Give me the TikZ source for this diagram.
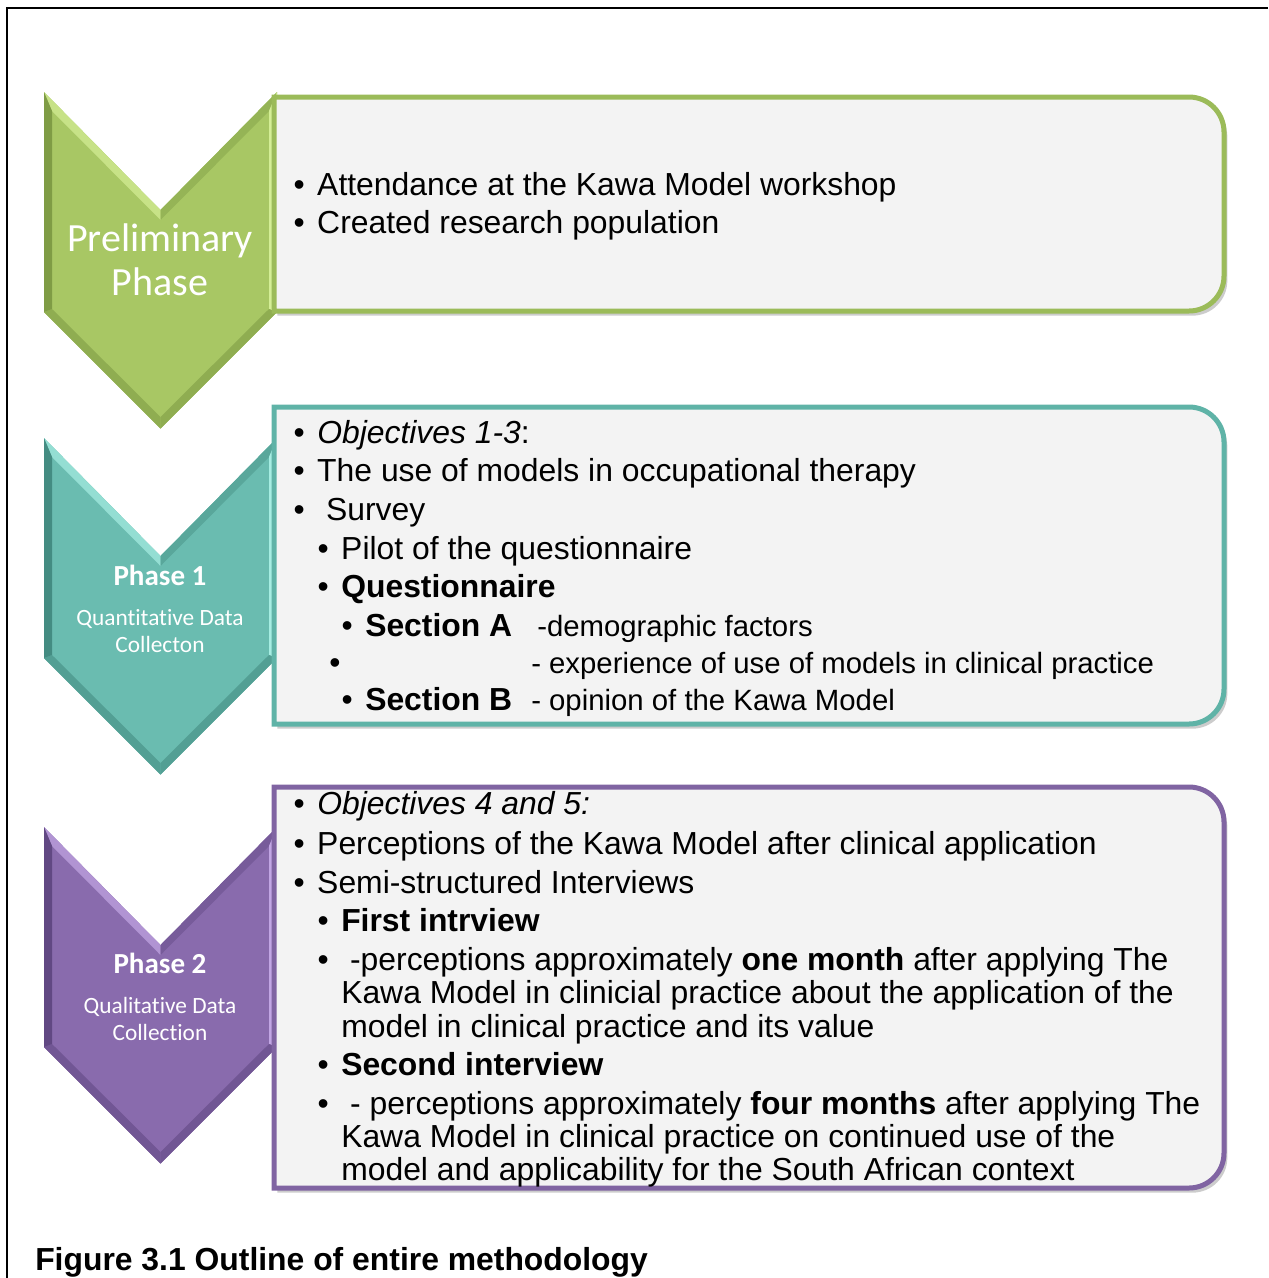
\documentclass[tikz,border=0pt]{standalone}
\usepackage{fontspec}
\setmainfont{Liberation Sans}
\newfontfamily\calfont[Ligatures=NoCommon]{Carlito}
\usetikzlibrary{shadows}

\definecolor{boxfill}{HTML}{F3F3F3}
\definecolor{grn}{HTML}{9BBB59}
\definecolor{grnfill}{HTML}{A8C764}
\definecolor{grnlight}{HTML}{D4EE96}
\definecolor{grndark}{HTML}{7F9C45}
\definecolor{tea}{HTML}{5FB3A7}
\definecolor{teafill}{HTML}{6ABCB0}
\definecolor{tealight}{HTML}{A6EDE2}
\definecolor{teadark}{HTML}{448C82}
\definecolor{pur}{HTML}{8064A2}
\definecolor{purfill}{HTML}{896BAD}
\definecolor{purlight}{HTML}{C2A6E4}
\definecolor{purdark}{HTML}{614883}

\tikzset{
  txt/.style={anchor=base west, inner sep=0pt, font=\fontsize{23.9}{28}\selectfont},
  smalltxt/.style={txt, font=\fontsize{22}{26}\selectfont},
  chevtext/.style={anchor=base, inner sep=0pt, text=white},
}
\newcommand\bul{\makebox[15.75pt][l]{\hspace{-2pt}\textbullet}}

\begin{document}
\begin{tikzpicture}[x=0.75pt, y=-0.75pt]
  \useasboundingbox (0,0) rectangle (1268,1278);
  \draw[line width=1.2pt] (7,1278) -- (7,8) -- (1268,8);

  % chevrons
  \foreach \y/\main/\lite/\dark in {92/grnfill/grnlight/grndark, 438/teafill/tealight/teadark, 827/purfill/purlight/purdark} {
    \begin{scope}[shift={(44,\y)}]
      \fill[\main] (0,0) -- (116.5,118) -- (233,0) -- (233,220) -- (116.5,336.5) -- (0,220) -- cycle;
      \fill[\lite!70!\main] (0,0) -- (116.5,118) -- (116.5,128) -- (8,19) -- cycle;
      \fill[\dark!45!\main] (116.5,118) -- (233,0) -- (225,19) -- (116.5,128) -- cycle;
      \fill[\lite] (233,0) -- (233,220) -- (225,217) -- (225,19) -- cycle;
      \fill[\dark!60!\main] (233,220) -- (116.5,336.5) -- (116.5,325) -- (225,217) -- cycle;
      \fill[\dark!60!\main] (116.5,336.5) -- (0,220) -- (8,217) -- (116.5,325) -- cycle;
      \fill[\dark] (0,220) -- (0,0) -- (8,19) -- (8,217) -- cycle;
    \end{scope}
  }

  % boxes
  \foreach \t/\b/\c in {97/311/grn, 407/724/tea, 787/1188/pur} {
    \filldraw[line width=3.75pt, draw=\c, fill=boxfill,
      drop shadow={shadow xshift=2.5pt, shadow yshift=-3.5pt, fill=black!40, opacity=.5}]
      (274,\t) -- (1189,\t) arc[start angle=-90, end angle=0, radius=35]
      -- (1224,\b-35) arc[start angle=0, end angle=90, radius=35] -- (274,\b) -- cycle;
  }

  % phase labels
  \node[chevtext, font=\calfont\fontsize{30}{36}\selectfont] (pre1) at (160,251) {Preliminary};
  \node[chevtext, font=\calfont\fontsize{30}{36}\selectfont] (pre2) at (160,295) {Phase};
  \node[chevtext, font=\calfont\bfseries\fontsize{21.8}{26}\selectfont] (ph1) at (160,585) {Phase 1};
  \node[chevtext, font=\calfont\fontsize{17.5}{21}\selectfont] (ph1a) at (160,625) {Quant\kern0pt itat\kern0pt ive Data};
  \node[chevtext, font=\calfont\fontsize{17.5}{21}\selectfont] (ph1b) at (160,652) {Collecton};
  \node[chevtext, font=\calfont\bfseries\fontsize{21.8}{26}\selectfont] (ph2) at (160,973) {Phase 2};
  \node[chevtext, font=\calfont\fontsize{17.5}{21}\selectfont] (ph2a) at (160,1013) {Qualitat\kern0pt ive Data};
  \node[chevtext, font=\calfont\fontsize{17.5}{21}\selectfont] (ph2b) at (160,1040) {Collect\kern0pt ion};

  % preliminary phase
  \node[txt] (a1) at (296,195) {\bul Attendance at the Kawa Model workshop};
  \node[txt] (a2) at (296,233) {\bul Created research population};

  % phase 1
  \node[txt] (b1) at (296,443) {\bul\textit{Objectives 1-3}:};
  \node[txt] (b2) at (296,481) {\bul The use of models in occupational therapy};
  \node[txt] (b3) at (296,520) {\bul\ Survey};
  \node[txt] (b4) at (320,559) {\bul Pilot of the questionnaire};
  \node[txt] (b5) at (320,597) {\bul\textbf{Questionnaire}};
  \node[txt] (b6) at (344,636) {\bul\textbf{Section A}};
  \node[smalltxt] (b6r) at (537,636) {-demographic factors};
  \node[txt] (b7) at (329,673) {\textbullet};
  \node[smalltxt] (b7r) at (531,673) {- experience of use of models in clinical practice};
  \node[txt] (b8) at (344,710) {\bul\textbf{Section B}};
  \node[smalltxt] (b8r) at (531,710) {- opinion of the Kawa Model};

  % phase 2
  \node[txt] (c1) at (296,814) {\bul\textit{Objectives 4 and 5:}};
  \node[txt] (c2) at (296,854) {\bul Perceptions of the Kawa Model after clinical application};
  \node[txt] (c3) at (296,893) {\bul Semi-structured Interviews};
  \node[txt] (c4) at (320,931) {\bul\textbf{First intrview}};
  \node[txt] (c5) at (320,970) {\bul\ -perceptions approximately \textbf{one month} after applying The};
  \node[txt] (c6) at (341,1003) {Kawa Model in clinicial practice about the application of the};
  \node[txt] (c7) at (341,1037) {model in clinical practice and its value};
  \node[txt] (c8) at (320,1075) {\bul\textbf{Second interview}};
  \node[txt] (c9) at (320,1114) {\bul\ - perceptions approximately \textbf{four months} after applying The};
  \node[txt] (c10) at (341,1147) {Kawa Model in clinical practice on continued use of the};
  \node[txt] (c11) at (341,1180) {model and applicability for the South African context};

  \node[txt] (cap) at (35,1270) {\textbf{Figure 3.1 Outline of entire methodology}};
\end{tikzpicture}
\end{document}
